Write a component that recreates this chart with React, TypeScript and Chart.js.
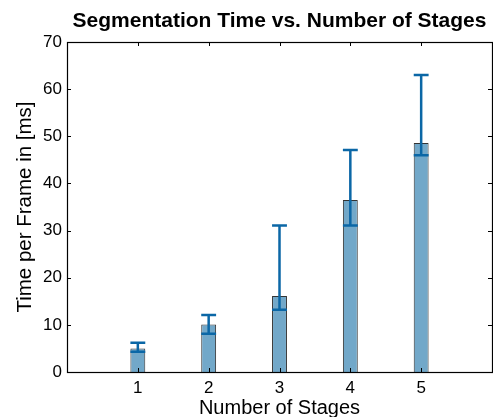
import React, { useEffect, useRef } from "react";
import { Chart, registerables } from "chart.js";

Chart.register(...registerables);

const stages = [1, 2, 3, 4, 5];
const meanTimes = [5.0, 10.1, 16.1, 36.5, 48.6];
const errLow = [4.3, 8.1, 13.2, 31.1, 46.0];
const errHigh = [6.2, 12.1, 31.1, 47.1, 63.0];
const yTicks = [0, 10, 20, 30, 40, 50, 60, 70];
const xTickLabels = ["1", "2", "3", "4", "5"];

const FONT = "'Liberation Sans', Arial, Helvetica, sans-serif";
const TITLE = "Segmentation Time vs. Number of Stages";

const boxPlugin = {
  id: "boxAndExtras",
  afterDatasetsDraw(chart: any) {
    const { ctx, chartArea: a, scales } = chart;
    const xs = scales.x;
    const ys = scales.y;
    const meta = chart.getDatasetMeta(0);
    // error bars
    ctx.save();
    ctx.strokeStyle = "#0b67a6";
    ctx.lineWidth = 2.5;
    ctx.lineCap = "butt";
    stages.forEach((s, i) => {
      const x = xs.getPixelForValue(s);
      const w = meta.data[i] ? meta.data[i].width : 14;
      const yl = ys.getPixelForValue(errLow[i]);
      const yh = ys.getPixelForValue(errHigh[i]);
      ctx.beginPath();
      ctx.moveTo(x, yl);
      ctx.lineTo(x, yh);
      ctx.moveTo(x - w / 2, yl);
      ctx.lineTo(x + w / 2, yl);
      ctx.moveTo(x - w / 2, yh);
      ctx.lineTo(x + w / 2, yh);
      ctx.stroke();
    });
    ctx.restore();
    // box
    ctx.save();
    ctx.strokeStyle = "#000";
    ctx.lineWidth = 1.2;
    ctx.strokeRect(Math.round(a.left) + 0.5, Math.round(a.top) + 0.5, Math.round(a.right - a.left), Math.round(a.bottom - a.top));
    const tl = 4;
    ctx.lineWidth = 1;
    ctx.beginPath();
    yTicks.forEach((v) => {
      const y = Math.round(ys.getPixelForValue(v)) + 0.5;
      ctx.moveTo(a.left, y);
      ctx.lineTo(a.left + tl, y);
      ctx.moveTo(a.right, y);
      ctx.lineTo(a.right - tl, y);
    });
    stages.forEach((s) => {
      const x = Math.round(xs.getPixelForValue(s)) + 0.5;
      ctx.moveTo(x, a.top);
      ctx.lineTo(x, a.top + tl);
      ctx.moveTo(x, a.bottom);
      ctx.lineTo(x, a.bottom - tl);
    });
    ctx.stroke();
    // title
    ctx.fillStyle = "#000";
    ctx.font = `bold 21px ${FONT}`;
    ctx.textAlign = "center";
    ctx.textBaseline = "middle";
    ctx.fillText(TITLE, (a.left + a.right) / 2, 21);
    ctx.restore();
  },
};

export default function App() {
  const ref = useRef<HTMLCanvasElement>(null);
  useEffect(() => {
    document.body.style.margin = "0";
    const chart = new Chart(ref.current!, {
      type: "bar",
      data: {
        datasets: [
          {
            data: stages.map((s, i) => ({ x: s, y: meanTimes[i] })),
            backgroundColor: "#72a8c9",
            borderColor: "#333333",
            borderWidth: 1,
            categoryPercentage: 1,
            barPercentage: 0.21,
          } as any,
        ],
      },
      options: {
        responsive: false,
        animation: false,
        layout: { padding: { top: 42, right: 1, left: 0, bottom: 0 } },
        plugins: { legend: { display: false }, tooltip: { enabled: false }, title: { display: false } },
        scales: {
          x: {
            type: "linear",
            offset: false,
            min: 0,
            max: 6,
            grid: { display: false, drawTicks: false, offset: false },
            border: { display: false },
            ticks: {
              stepSize: 1,
              padding: 6,
              color: "#000",
              font: { family: FONT, size: 17 },
              callback: (v: any) => {
                const idx = stages.indexOf(Number(v));
                return idx >= 0 ? xTickLabels[idx] : "";
              },
            },
            title: {
              display: true,
              text: "Number of Stages",
              color: "#000",
              font: { family: FONT, size: 20, lineHeight: 0.85 },
              padding: { top: 0, bottom: 0 },
            },
            afterFit: (s: any) => {
              s.height = 45;
              s.paddingLeft = 0;
              s.paddingRight = 0;
            },
          },
          y: {
            min: 0,
            max: 70,
            grid: { display: false, drawTicks: false },
            border: { display: false },
            ticks: {
              stepSize: 10,
              padding: 5,
              color: "#000",
              font: { family: FONT, size: 17 },
            },
            title: {
              display: true,
              text: "Time per Frame in [ms]",
              color: "#000",
              font: { family: FONT, size: 20.5 },
              padding: { top: 13, bottom: 0 },
            },
            afterFit: (s: any) => {
              s.width = 67;
              s.paddingTop = 0;
              s.paddingBottom = 0;
            },
          },
        },
      },
      plugins: [boxPlugin],
    });
    return () => chart.destroy();
  }, []);
  return (
    <div style={{ width: 493, height: 417 }}>
      <canvas ref={ref} width={493} height={417} />
    </div>
  );
}
